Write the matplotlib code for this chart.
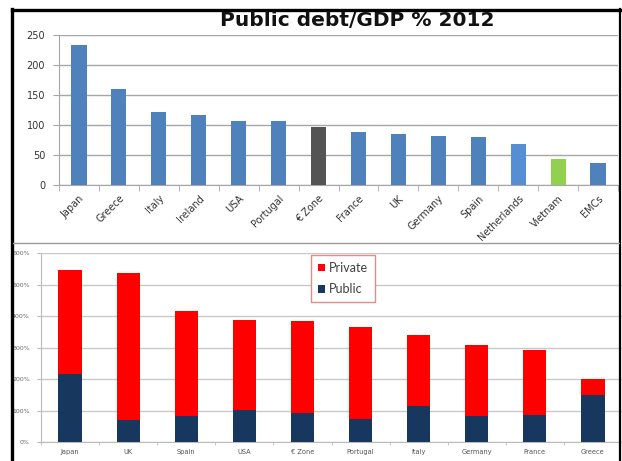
import matplotlib
matplotlib.use("Agg")
import matplotlib.pyplot as plt
from matplotlib.lines import Line2D
import numpy as np

# ---- data ----
top_countries = ["Japan", "Greece", "Italy", "Ireland", "USA", "Portugal", "€ Zone",
                 "France", "UK", "Germany", "Spain", "Netherlands", "Vietnam", "EMCs"]
top_values = [233, 160, 121, 116, 106, 106, 96, 89, 85, 82, 80, 69, 44, 37]
top_colors = ["#4F81BD"] * 6 + ["#545454"] + ["#4F81BD"] * 4 + ["#558ED5", "#92D050", "#4F81BD"]
top_ticks = [0, 50, 100, 150, 200, 250]

bot_countries = ["Japan", "UK", "Spain", "USA", "€ Zone", "Portugal", "Italy",
                 "Germany", "France", "Greece"]
bot_total = [548, 537, 417, 387, 385, 367, 341, 310, 294, 200]
bot_public = [216, 70, 84, 102, 94, 75, 116, 83, 88, 150]
bot_private = [t - p for t, p in zip(bot_total, bot_public)]
bot_ticks = [0, 100, 200, 300, 400, 500, 600]
bot_ticklabels = ["0%", "100%", "200%", "300%", "400%", "500%", "600%"]

W, H = 622, 461
fig = plt.figure(figsize=(W / 100, H / 100), dpi=100)
fig.patch.set_facecolor("white")


def box(l, t, r, b):
    return [l / W, 1 - b / H, (r - l) / W, (b - t) / H]


# ---- top chart ----
ax1 = fig.add_axes(box(59, 35, 618, 185))
x1 = np.arange(len(top_countries))
ax1.bar(x1, top_values, width=0.38, color=top_colors, zorder=3)
ax1.set_xlim(-0.5, len(top_countries) - 0.5)
ax1.set_ylim(0, 250)
ax1.set_yticks(top_ticks)
ax1.set_yticklabels([str(v) for v in top_ticks], fontsize=7, color="#333333")
ax1.yaxis.grid(True, color="#A6A6A6", lw=1, zorder=0)
ax1.set_xticks(x1)
ax1.set_xticklabels(top_countries, rotation=45, ha="right", rotation_mode="anchor",
                    fontsize=7, color="#333333")
ax1.set_xticks(np.arange(-0.5, len(top_countries), 1), minor=True)
ax1.tick_params(axis="x", which="major", length=0, pad=6)
ax1.tick_params(axis="x", which="minor", length=4, color="#A6A6A6")
ax1.tick_params(axis="y", length=4, color="#A6A6A6", pad=6)
for s in ["top", "right"]:
    ax1.spines[s].set_visible(False)
for s in ["left", "bottom"]:
    ax1.spines[s].set_color("#A6A6A6")
fig.text(357 / W, 1 - 21 / H, "Public debt/GDP % 2012", ha="center", va="center",
         fontsize=14.5, fontweight="bold", color="#111111")

# ---- bottom chart ----
ax2 = fig.add_axes(box(41, 253.3, 622, 442.3))
x2 = np.arange(len(bot_countries))
b_pub = ax2.bar(x2, bot_public, width=0.4, color="#17375E", zorder=3, label="Public")
b_pri = ax2.bar(x2, bot_private, bottom=bot_public, width=0.4, color="#FF0000",
                zorder=3, label="Private")
ax2.set_xlim(-0.5, len(bot_countries) - 0.5)
ax2.set_ylim(0, 600)
ax2.set_yticks(bot_ticks)
ax2.set_yticklabels(bot_ticklabels, fontsize=4.5, color="#666666")
ax2.yaxis.grid(True, color="#C8C8C8", lw=1, zorder=0)
ax2.set_xticks(x2)
ax2.set_xticklabels(bot_countries, fontsize=4.8, color="#555555")
ax2.set_xticks(np.arange(-0.5, len(bot_countries), 1), minor=True)
ax2.tick_params(axis="x", which="major", length=0, pad=5)
ax2.tick_params(axis="x", which="minor", length=2.5, color="#BBBBBB")
ax2.tick_params(axis="y", length=3, color="#BBBBBB", pad=5)
for s in ["top", "right"]:
    ax2.spines[s].set_visible(False)
for s in ["left", "bottom"]:
    ax2.spines[s].set_color("#BBBBBB")
leg = ax2.legend([b_pri, b_pub], ["Private", "Public"], loc="upper left",
                 bbox_to_anchor=(311 / W, 1 - 255 / H), bbox_transform=fig.transFigure,
                 borderaxespad=0, frameon=True, fancybox=False, edgecolor="#E38A8A",
                 framealpha=1, prop={"family": "Lato", "size": 9}, handlelength=0.6,
                 handleheight=0.6, handletextpad=0.3, labelspacing=0.75, borderpad=0.55)
leg.get_frame().set_linewidth(1.0)
for t in leg.get_texts():
    t.set_color("#404040")

# ---- frame lines ----
fig.add_artist(Line2D([12 / W, 12 / W], [0, 1 - 9 / H], color="black", lw=2.4,
                      transform=fig.transFigure))
fig.add_artist(Line2D([12 / W, 621 / W], [1 - 10 / H, 1 - 10 / H], color="black", lw=2.4,
                      transform=fig.transFigure))
fig.add_artist(Line2D([620 / W, 620 / W], [0, 1 - 9 / H], color="black", lw=1.6,
                      transform=fig.transFigure))
fig.add_artist(Line2D([13 / W, 619 / W], [1 - 243 / H, 1 - 243 / H], color="#9A9A9A",
                      lw=1.0, transform=fig.transFigure))

fig.savefig("out.png", dpi=100, facecolor="white")
